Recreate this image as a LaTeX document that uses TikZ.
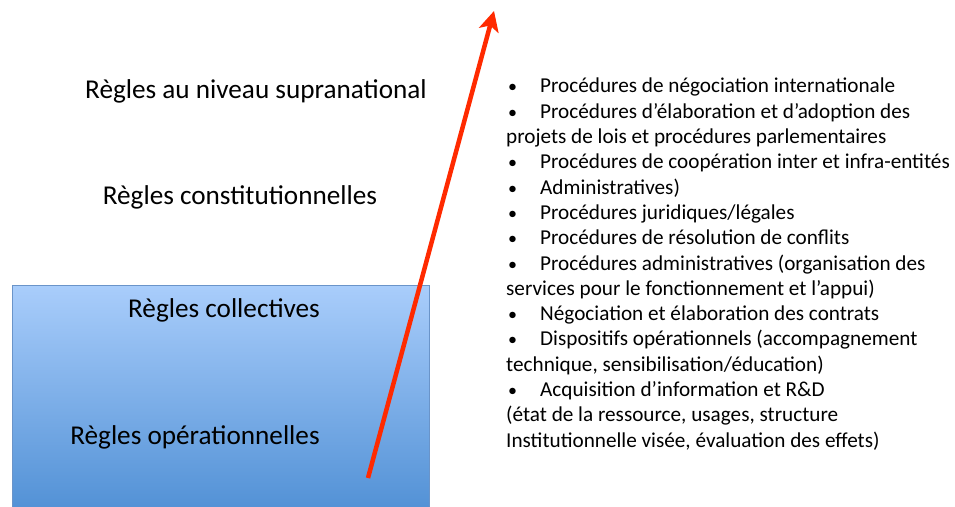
\documentclass[tikz,border=0pt]{standalone}
\usepackage{fontspec}
\setmainfont{Carlito}
\usetikzlibrary{arrows.meta}
\definecolor{boxtop}{HTML}{A9CDFB}
\definecolor{boxbot}{HTML}{4C8DD3}
\definecolor{boxline}{HTML}{6A94C9}
\definecolor{arrowred}{HTML}{FF2A00}
\newcommand{\bul}{\makebox[34pt][l]{\hspace{2pt}\scalebox{0.85}{•}}}
\tikzset{
  rule/.style={font=\fontsize{27.2}{32}\selectfont, inner sep=0pt, anchor=center},
  listtext/.style={font=\fontsize{21.2}{25.3}\selectfont, inner sep=0pt, anchor=north west, align=left},
}
\begin{document}
\begin{tikzpicture}[x=1pt,y=-1pt]
\useasboundingbox (0,0) rectangle (955,506);
\fill[white] (0,0) rectangle (955,506);
\begin{scope}
\clip (0,0) rectangle (955,506);
\node[draw=boxline, line width=1pt, top color=boxtop, bottom color=boxbot, minimum width=417pt, minimum height=240pt, anchor=north west, inner sep=0pt] (box) at (12,285) {};
\end{scope}
\node[rule] (supra) at (256,91) {Règles au niveau supranational};
\node[rule] (const) at (240,197) {Règles constitutionnelles};
\node[rule] (coll) at (224,310) {Règles collectives};
\node[rule] (oper) at (195,437) {Règles opérationnelles};
\coordinate (a0) at (368,478);
\coordinate (a1) at (494,11);
\draw[arrowred, line width=4.5pt, -{Stealth[length=20pt,width=20pt,inset=5pt]}] (a0) -- (a1);
\node[listtext] (list) at (506,78) {%
\bul Procédures de négociation internationale\\
\bul Procédures d’élaboration et d’adoption des\\
projets de lois et procédures parlementaires\\
\bul Procédures de coopération inter et infra-entités\\
\bul Administratives)\\
\bul Procédures juridiques/légales\\
\bul Procédures de résolution de conflits\\
\bul Procédures administratives (organisation des\\
services pour le fonctionnement et l’appui)\\
\bul Négociation et élaboration des contrats\\
\bul Dispositifs opérationnels (accompagnement\\
technique, sensibilisation/éducation)\\
\bul Acquisition d’information et R\&D\\
(état de la ressource, usages, structure\\
Institutionnelle visée, évaluation des effets)};
\end{tikzpicture}
\end{document}
